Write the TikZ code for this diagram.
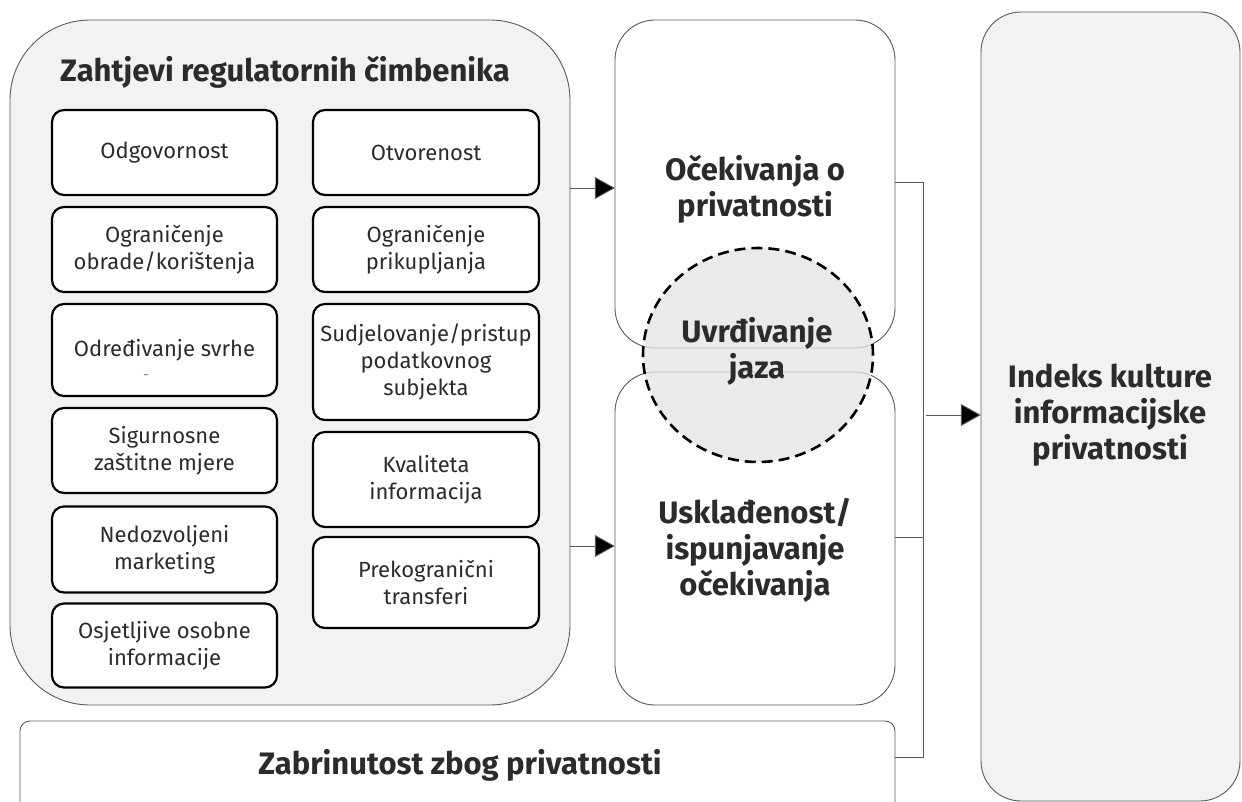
\documentclass[tikz,border=0pt]{standalone}
\usepackage{fontspec}
\setmainfont{Fira Sans}
\usetikzlibrary{arrows.meta,calc}
\definecolor{panel}{HTML}{F2F2F2}
\definecolor{txt}{HTML}{2B2B2B}
\definecolor{edge}{HTML}{5A5A5A}
\definecolor{gapfill}{HTML}{E4E4E4}
\tikzset{
  item/.style={draw=black, line width=2.2pt, rounded corners=12pt, fill=white,
    align=center, text=txt, font=\fontsize{22}{27}\selectfont, inner sep=0pt},
  panelbox/.style={draw=edge, line width=0.9pt, fill=panel},
  whitebox/.style={draw=edge, line width=0.9pt, fill=white},
  head/.style={align=center, text=txt, font=\fontsize{31}{36}\selectfont\bfseries},
  conn/.style={draw=edge, line width=0.9pt},
  arr/.style={draw=edge, line width=0.9pt, -{Triangle[length=20pt,width=22pt,fill=black]}},
}
\begin{document}
\begin{tikzpicture}[x=1pt,y=-1pt]
\useasboundingbox (0,0) rectangle (1242,802);
\clip (0,0) rectangle (1242,802);

% main left panel
\draw[panelbox, rounded corners=80pt] (10,20) rectangle (570,705);
\node (big) at (290,362.5) [minimum width=560pt, minimum height=685pt, inner sep=0pt] {};
\node[head] (title) at (285,72) {Zahtjevi regulatornih čimbenika};

% left column
\node[item, minimum width=225pt, minimum height=85pt] (l1) at (164.5,152.5) {Odgovornost};
\node[item, minimum width=225pt, minimum height=85pt] (l2) at (164.5,249.5) {Ograničenje\\obrade/korištenja};
\node[item, minimum width=225pt, minimum height=92pt] (l3) at (164.5,350) {Određivanje svrhe};
\node[text=gray, font=\fontsize{14}{14}\selectfont] (l3dash) at (146,377) {-};
\node[item, minimum width=225pt, minimum height=85pt] (l4) at (164.5,450.5) {Sigurnosne\\zaštitne mjere};
\node[item, minimum width=225pt, minimum height=86pt] (l5) at (164.5,549.5) {Nedozvoljeni\\marketing};
\node[item, minimum width=225pt, minimum height=84pt] (l6) at (164.5,645.5) {Osjetljive osobne\\informacije};

% right column
\node[item, minimum width=226pt, minimum height=85pt] (r1) at (426,152.5) {Otvorenost};
\node[item, minimum width=226pt, minimum height=85pt] (r2) at (426,249.5) {Ograničenje\\prikupljanja};
\node[item, minimum width=226pt, minimum height=116pt] (r3) at (426,362) {Sudjelovanje/pristup\\podatkovnog\\subjekta};
\node[item, minimum width=226pt, minimum height=95pt] (r4) at (426,479.5) {Kvaliteta\\informacija};
\node[item, minimum width=226pt, minimum height=91pt] (r5) at (426,582.5) {Prekogranični\\transferi};

% middle boxes
\draw[whitebox, rounded corners=40pt] (615,20) rectangle (895,348);
\node (top) at (755,184) [minimum width=280pt, minimum height=328pt, inner sep=0pt] {};
\node[head] (toptext) at (755,189) {Očekivanja o\\privatnosti};

\draw[whitebox, rounded corners=40pt] (615,372) rectangle (895,705);
\node (low) at (755,538.5) [minimum width=280pt, minimum height=333pt, inner sep=0pt] {};
\node[head] (lowtext) at (755,550) {Usklađenost/\\ispunjavanje\\očekivanja};

% bottom box
\draw[whitebox, rounded corners=10pt] (20,721) rectangle (895,815);
\node (bot) at (457.5,760) [minimum width=875pt, minimum height=78pt, inner sep=0pt] {};
\node[head] (bottext) at (460,765) {Zabrinutost zbog privatnosti};

% right box
\draw[panelbox, rounded corners=40pt] (981,12) rectangle (1240,801);
\node (right) at (1110.5,406) [minimum width=259pt, minimum height=789pt, inner sep=0pt] {};
\node[head] (righttext) at (1110,415) {Indeks kulture\\informacijske\\privatnosti};

% gap circle
\draw[black, line width=2.6pt, dash pattern=on 11pt off 6pt, fill=gapfill, fill opacity=0.75]
  (758,355) ellipse [x radius=115pt, y radius=107pt];
\node (gap) at (758,355) [minimum size=1pt, inner sep=0pt] {};
\node[head] (gaptext) at (757,351) {Uvrđivanje\\jaza};

% connectors
\coordinate (a1) at (570,188);
\draw[arr] (a1) -- (a1 -| top.west);
\coordinate (a2) at (570,546);
\draw[arr] (a2) -- (a2 -| low.west);

\coordinate (j) at (923,182);
\coordinate (jb) at (923,757);
\draw[conn] (top.east |- j) -- (j) -- (jb) -- (bot.east |- jb);
\coordinate (jl) at (923,537);
\draw[conn] (low.east |- jl) -- (jl);
\coordinate (ja) at (926,415);
\draw[arr] (ja) -- (ja -| right.west);
\end{tikzpicture}
\end{document}
